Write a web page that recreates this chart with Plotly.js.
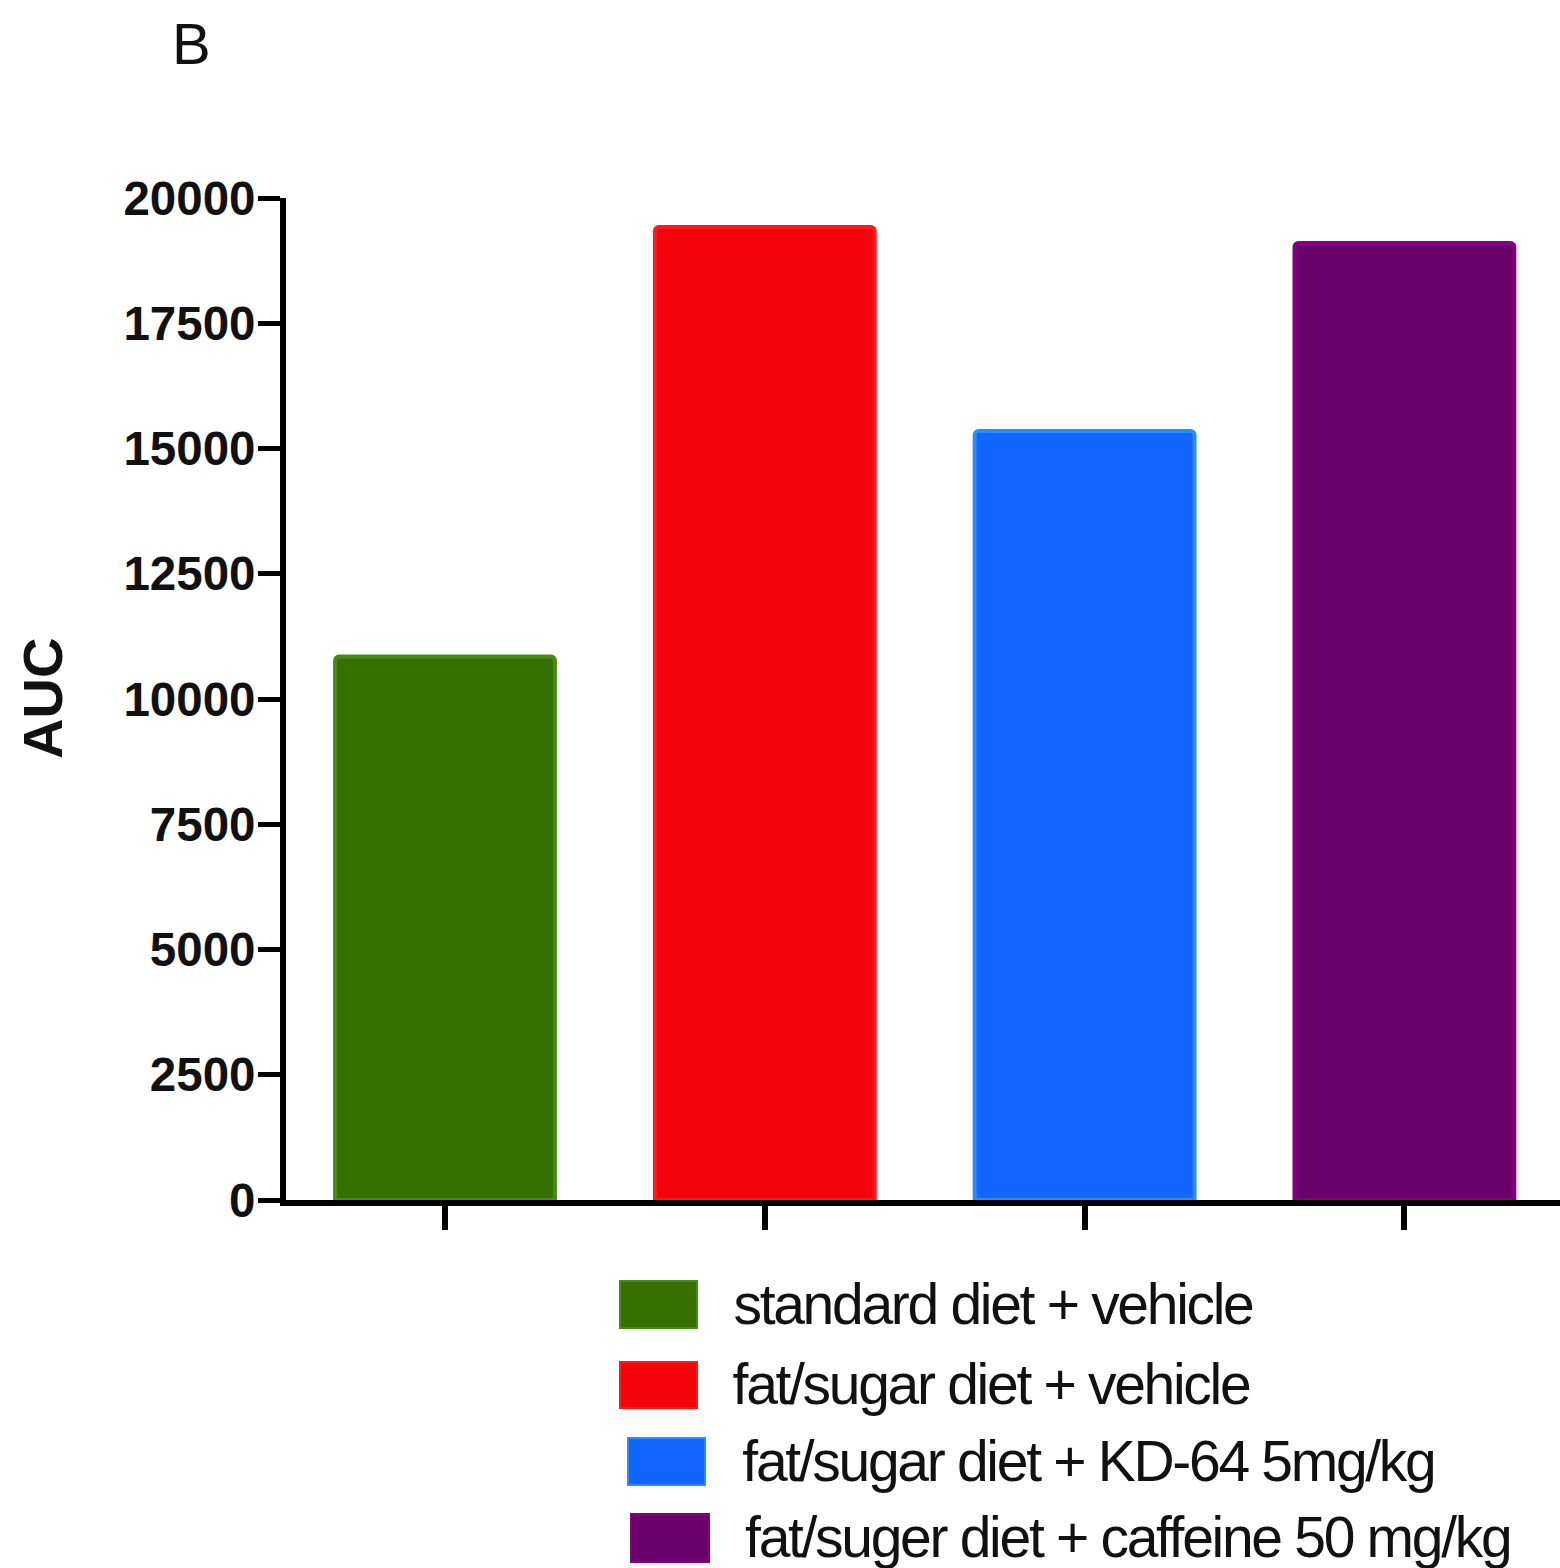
<!DOCTYPE html>
<html>
<head>
<meta charset="utf-8">
<script src="https://cdn.plot.ly/plotly-3.0.1.min.js"></script>
<style>
  html, body { margin: 0; padding: 0; background: #ffffff; }
  #chart { width: 1560px; height: 1568px; }
  /* tighter tracking for the four legend labels (annotations 0-3) */
  #chart .annotation[data-index="0"] text,
  #chart .annotation[data-index="1"] text,
  #chart .annotation[data-index="2"] text,
  #chart .annotation[data-index="3"] text { letter-spacing: -2.3px; }
</style>
</head>
<body>
<div id="chart"></div>
<script>
// Groups and their AUC values
const groups = [
  "standard diet + vehicle",
  "fat/sugar diet + vehicle",
  "fat/sugar diet + KD-64 5mg/kg",
  "fat/suger diet + caffeine 50 mg/kg"
];
const aucValues = [10850, 19420, 15350, 19100];
const fillColors = ["#367000", "#f5040c", "#1166ff", "#6a006a"];
const edgeColors = ["#4a8a14", "#ff1a22", "#2a8cff", "#84007f"];
const yTicks = [0, 2500, 5000, 7500, 10000, 12500, 15000, 17500, 20000];

const W = 1560, H = 1568;
const M = { l: 286, r: 0, t: 198, b: 368 };
const plotW = W - M.l - M.r, plotH = H - M.t - M.b;
// pixel -> paper coordinate helpers for the annotations and legend swatches
const px = x => (x - M.l) / plotW;
const py = y => (H - M.b - y) / plotH;
const TRACK = 2.3; // legend label letter-spacing reduction, px per glyph

const xIdx = groups.map((_, i) => i);

const trace = {
  type: "bar",
  x: xIdx,
  y: aucValues,
  width: 0.6875,
  marker: {
    color: fillColors,
    line: { color: edgeColors, width: 4 },
    cornerradius: 4
  },
  hoverinfo: "skip",
  showlegend: false
};

// Legend rows laid out beneath the axis
const legendRows = [
  { x0: 620, x1: 697, y0: 1281, y1: 1328, tx: 731 },
  { x0: 620, x1: 697, y0: 1362, y1: 1408, tx: 731 },
  { x0: 628, x1: 705, y0: 1438, y1: 1485, tx: 740 },
  { x0: 631, x1: 709, y0: 1514, y1: 1562, tx: 743 }
];

const shapes = legendRows.map((r, i) => ({
  type: "rect", xref: "paper", yref: "paper",
  x0: px(r.x0), x1: px(r.x1), y0: py(r.y1), y1: py(r.y0),
  fillcolor: fillColors[i],
  line: { color: edgeColors[i], width: 2 }
}));

// the text box is measured without the tighter tracking and then centred,
// so pull each label back by half of the width the tracking removes
const annotations = legendRows.map((r, i) => ({
  xref: "paper", yref: "paper",
  x: px(r.tx), y: py((r.y0 + r.y1) / 2 - 1),
  xanchor: "left", yanchor: "middle",
  xshift: -groups[i].length * TRACK / 2,
  text: groups[i], showarrow: false,
  font: { family: "Liberation Sans, Arial, sans-serif", size: 57, color: "#111111" }
}));

annotations.push({
  xref: "paper", yref: "paper",
  x: px(191), y: py(44), xanchor: "center", yanchor: "middle",
  text: "B", showarrow: false,
  font: { family: "Liberation Sans, Arial, sans-serif", size: 58, color: "#111111" }
});

annotations.push({
  xref: "paper", yref: "paper",
  x: px(42), y: py(699), xanchor: "center", yanchor: "middle",
  text: "AUC", showarrow: false, textangle: -90,
  font: { family: "Liberation Sans, Arial, sans-serif", size: 56, color: "#111111", weight: "bold" }
});

const layout = {
  width: W, height: H,
  margin: M,
  paper_bgcolor: "#ffffff",
  plot_bgcolor: "#ffffff",
  showlegend: false,
  xaxis: {
    range: [(M.l - 445) / 319.8, (W - 445) / 319.8],
    tickmode: "array",
    tickvals: xIdx,
    showticklabels: false,
    ticks: "outside",
    ticklen: 24,
    tickwidth: 6,
    tickcolor: "#000000",
    showline: true,
    linecolor: "#000000",
    linewidth: 6,
    showgrid: false,
    zeroline: false,
    fixedrange: true
  },
  yaxis: {
    range: [0, 20000],
    tickmode: "array",
    tickvals: yTicks,
    ticktext: yTicks.map(String),
    ticks: "outside",
    ticklen: 22,
    tickwidth: 5,
    tickcolor: "#000000",
    ticklabelstandoff: -7,
    tickfont: { family: "Liberation Sans, Arial, sans-serif", size: 47.5, color: "#111111", weight: "bold" },
    showline: true,
    linecolor: "#000000",
    linewidth: 6,
    showgrid: false,
    zeroline: false,
    fixedrange: true
  },
  shapes: shapes,
  annotations: annotations
};

Plotly.newPlot("chart", [trace], layout, { staticPlot: true, displayModeBar: false });
</script>
</body>
</html>
